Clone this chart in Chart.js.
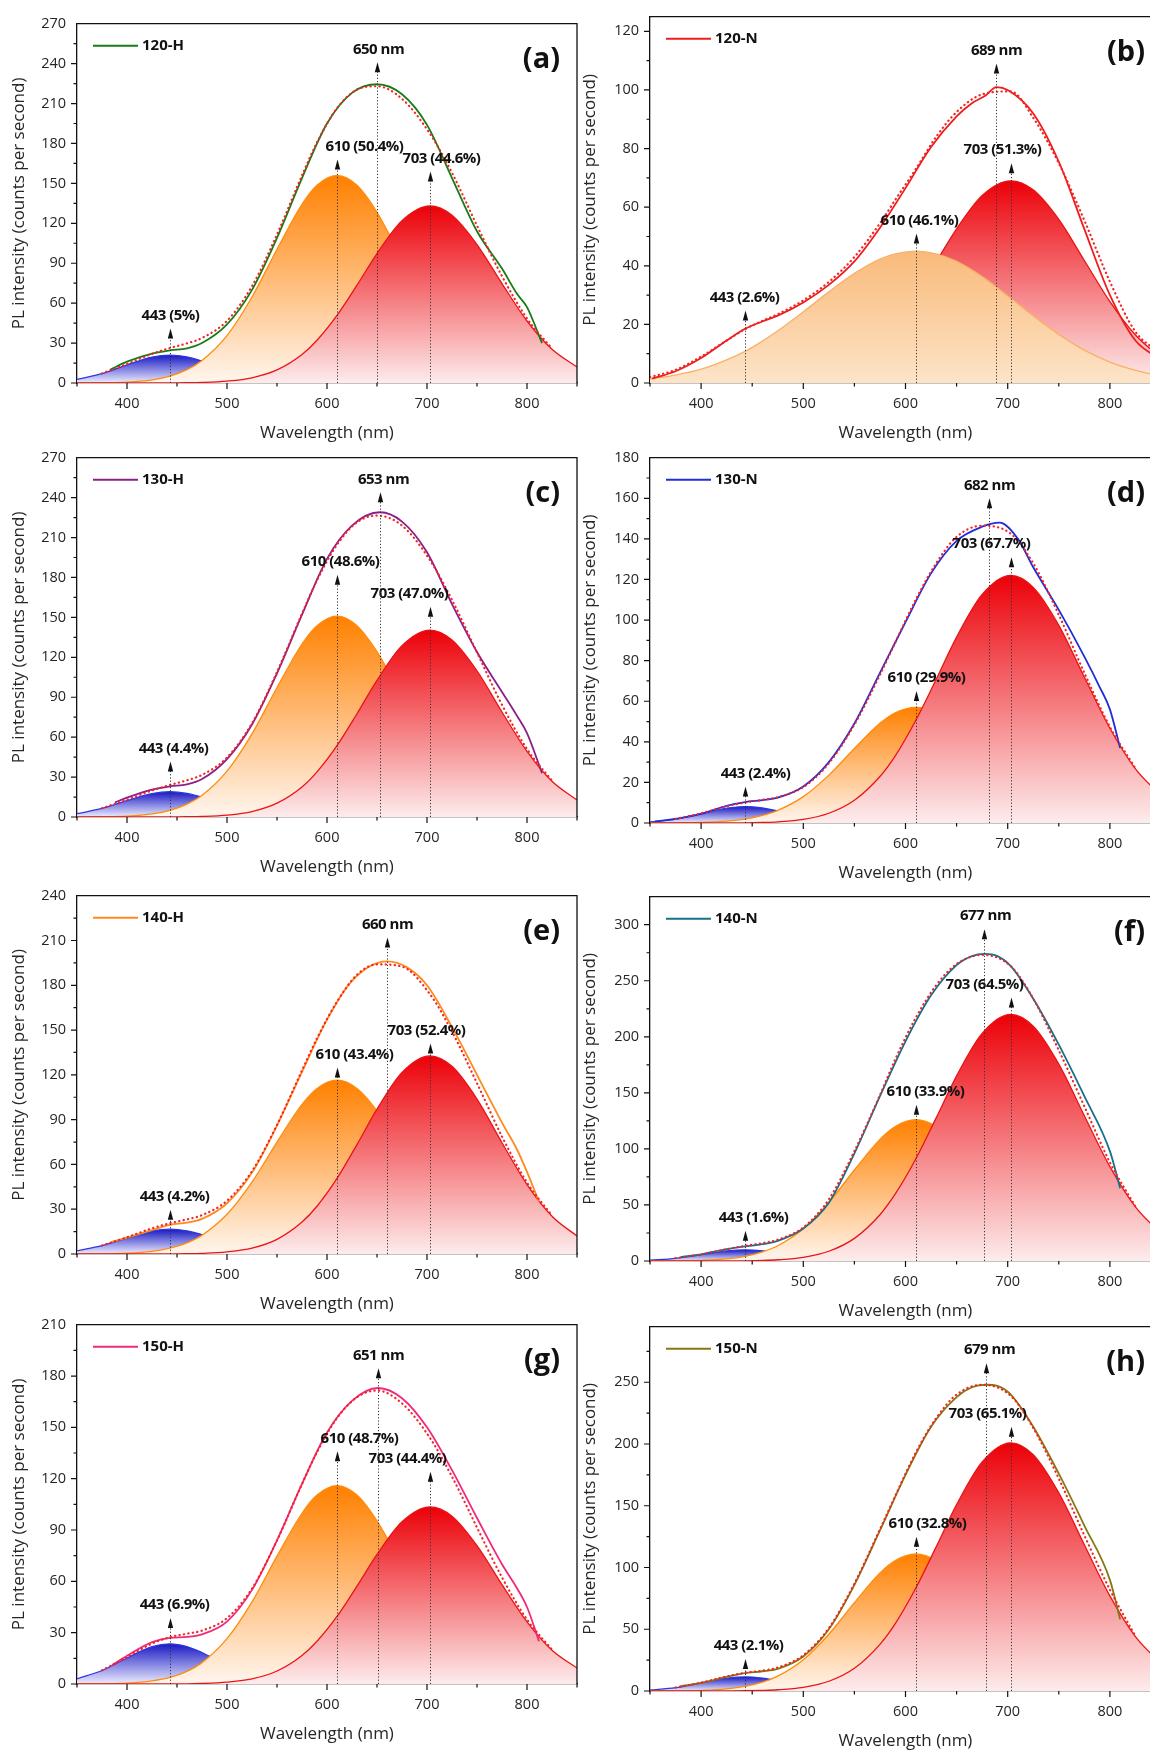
<!DOCTYPE html>
<html>
<head>
<meta charset="utf-8">
<script src="https://cdn.jsdelivr.net/npm/chart.js@4.4.1/dist/chart.umd.min.js"></script>
<style>
  html, body { margin: 0; padding: 0; background: #fff; overflow: hidden; }
  #fig { position: relative; width: 1150px; height: 1754px; overflow: hidden; background: #fff; }
  #fig canvas { position: absolute; }
</style>
</head>
<body>
<div id="fig"></div>
<script>
// wavelength grid of the fitted Gaussian components (nm)
const wl = [350, 375, 400, 425, 443, 460, 475, 500, 525, 550, 575, 590, 610, 630, 650, 675, 703, 725, 750, 775, 800, 825, 850];
const xTicks = [400, 500, 600, 700, 800];

// (a) 120-H
const a_yTicks = [0, 30, 60, 90, 120, 150, 180, 210, 240, 270];
const a_blue   = [2.7, 7.0, 13.6, 19.5, 21.0, 19.6, 16.5, 9.7, 4.3, 1.4, 0.3, 0.1, 0, 0, 0, 0, 0, 0, 0, 0, 0, 0, 0];
const a_orange = [0, 0.2, 0.7, 2.4, 5.2, 10.0, 16.9, 35.6, 64.6, 100.5, 134.3, 148.6, 156.0, 148.6, 128.3, 93.1, 54.3, 31.1, 14.3, 5.6, 1.9, 0.6, 0.1];
const a_red    = [0, 0, 0, 0, 0.1, 0.2, 0.4, 1.4, 3.9, 9.8, 21.4, 32.1, 50.8, 73.5, 97.3, 121.9, 133.0, 126.0, 104.0, 74.7, 46.6, 25.3, 12.0];
const a_fit    = [null, 7.2, 14.3, 21.9, 26.3, 29.8, 33.8, 46.7, 72.8, 111.7, 156.0, 180.8, 206.5, 220.5, 223.0, 213.5, 187.3, 158.0, 118.3, 80.3, 48.5, 25.9, null];
const a_expX   = [383, 400, 425, 443, 460, 475, 500, 525, 550, 575, 600, 625, 650, 675, 700, 725, 750, 775, 790, 800, 815];
const a_expY   = [10, 16, 22, 24.5, 26, 30, 44, 70, 109, 154, 195, 218, 224.5, 217, 194, 154, 114, 86, 67, 57, 30];

// (b) 120-N
const b_yTicks = [0, 20, 40, 60, 80, 100, 120];
const b_orange = [1.4, 2.7, 4.7, 7.9, 10.8, 14.3, 17.8, 24.3, 31.1, 37.4, 42.3, 44.1, 45.0, 44.1, 41.5, 36.3, 28.9, 22.9, 16.6, 11.2, 7.1, 4.3, 2.4];
const b_red    = [0, 0, 0, 0, 0.1, 0.2, 0.5, 1.3, 3.3, 7.2, 14.2, 20.1, 30.0, 41.3, 52.6, 64.0, 69.0, 65.9, 55.8, 41.8, 27.8, 16.4, 8.6];
const b_fit    = [2.0, 4.5, 9.0, 14.5, 18.4, 21.2, 23.5, 28.2, 34.5, 43.0, 54.5, 62.5, 73.0, 84.0, 92.5, 98.5, 99.5, 90.5, 75.0, 55.5, 34.6, 17.5, 10.0];
const b_expX   = [352, 375, 400, 425, 443, 460, 475, 500, 525, 550, 575, 600, 625, 650, 665, 678, 689, 700, 725, 750, 775, 800, 825, 850];
const b_expY   = [1.5, 4, 8.5, 14.5, 18.5, 21, 23, 27.5, 33.5, 41.5, 53, 66.5, 80.5, 91, 95.5, 98, 101, 100, 92, 75.5, 52.5, 30, 14.5, 8];

// (c) 130-H
const c_yTicks = [0, 30, 60, 90, 120, 150, 180, 210, 240, 270];
const c_blue   = [2.5, 6.4, 12.3, 17.6, 19.0, 17.7, 14.9, 8.8, 3.9, 1.3, 0.3, 0.1, 0, 0, 0, 0, 0, 0, 0, 0, 0, 0, 0];
const c_orange = [0, 0.2, 0.7, 2.3, 5.0, 9.7, 16.3, 34.5, 62.5, 97.3, 130.0, 143.8, 151.0, 143.8, 124.2, 90.2, 52.5, 30.1, 13.8, 5.4, 1.8, 0.5, 0.1];
const c_red    = [0, 0, 0, 0, 0.1, 0.2, 0.4, 1.4, 4.1, 10.4, 22.6, 33.9, 53.6, 77.6, 102.7, 128.8, 140.5, 133.1, 109.9, 78.9, 49.3, 26.8, 12.7];
const c_fit    = [null, 6.6, 13.0, 19.9, 24.1, 27.6, 31.6, 44.7, 70.5, 109.0, 152.9, 177.8, 204.6, 221.4, 226.5, 219.0, 193.0, 163.2, 123.7, 84.3, 51.1, 27.3, null];
const c_expX   = [388, 400, 425, 443, 460, 475, 500, 525, 550, 575, 600, 625, 653, 675, 700, 725, 750, 775, 790, 800, 815];
const c_expY   = [11, 14.5, 20.5, 23, 24.5, 28.5, 43.5, 69.5, 108, 152, 194, 219, 229, 222, 199, 160, 124, 94, 76, 63, 33];

// (d) 130-N
const d_yTicks = [0, 20, 40, 60, 80, 100, 120, 140, 160, 180];
const d_blue   = [0.5, 1.9, 4.5, 7.3, 8.1, 7.4, 5.9, 2.9, 1.0, 0.2, 0, 0, 0, 0, 0, 0, 0, 0, 0, 0, 0, 0, 0];
const d_orange = [0, 0.1, 0.3, 0.9, 1.9, 3.7, 6.2, 13.0, 23.6, 36.7, 49.1, 54.3, 57.0, 54.3, 46.9, 34.0, 19.8, 11.3, 5.2, 2.1, 0.7, 0.2, 0.1];
const d_red    = [0, 0, 0, 0, 0.1, 0.3, 0.6, 1.8, 4.8, 11.2, 22.9, 33.1, 50.5, 70.8, 91.6, 112.6, 122.0, 116.1, 97.4, 71.9, 46.7, 26.7, 13.5];
const d_fit    = [null, 2.0, 4.8, 8.2, 10.1, 11.4, 12.7, 17.7, 29.4, 48.5, 73.0, 89.0, 110.0, 128.0, 141.0, 146.5, 142.5, 128.0, 102.6, 74.0, 47.4, 26.9, null];
const d_expX   = [355, 375, 400, 425, 443, 460, 475, 500, 525, 550, 575, 600, 625, 650, 675, 692, 710, 725, 750, 775, 790, 800, 810];
const d_expY   = [0.8, 2, 4.5, 8.5, 10.3, 11.3, 12.5, 18, 30, 49, 74, 99, 123, 139, 146, 148, 140, 126, 105, 82, 67, 56, 37];

// (e) 140-H
const e_yTicks = [0, 30, 60, 90, 120, 150, 180, 210, 240];
const e_blue   = [2.1, 5.6, 10.7, 15.4, 16.6, 15.5, 13.0, 7.7, 3.4, 1.1, 0.3, 0.1, 0, 0, 0, 0, 0, 0, 0, 0, 0, 0, 0];
const e_orange = [0, 0.1, 0.5, 1.8, 3.9, 7.5, 12.6, 26.6, 48.2, 75.0, 100.2, 110.9, 116.4, 110.9, 95.8, 69.5, 40.5, 23.2, 10.6, 4.2, 1.4, 0.4, 0.1];
const e_red    = [0, 0, 0, 0, 0.1, 0.2, 0.4, 1.4, 3.9, 9.8, 21.4, 32.0, 50.6, 73.3, 97.0, 121.6, 132.7, 125.7, 103.8, 74.5, 46.5, 25.3, 12.0];
const e_fit    = [null, 5.7, 11.2, 17.2, 20.6, 23.2, 26.0, 35.7, 55.5, 86.5, 123.0, 144.5, 169.0, 187.0, 194.0, 192.5, 174.0, 149.0, 114.4, 78.7, 47.9, 25.7, null];
const e_expX   = [384, 400, 425, 443, 460, 475, 500, 525, 550, 575, 600, 625, 660, 680, 700, 725, 750, 775, 790, 800, 812];
const e_expY   = [8, 11, 16, 19.5, 21, 23.5, 34, 54.5, 86, 122, 157, 183, 196, 192, 180, 152, 120, 88, 70, 55, 35];

// (f) 140-N
const f_yTicks = [0, 50, 100, 150, 200, 250, 300];
const f_blue   = [0.7, 2.4, 5.6, 9.0, 10.0, 9.1, 7.3, 3.6, 1.2, 0.3, 0, 0, 0, 0, 0, 0, 0, 0, 0, 0, 0, 0, 0];
const f_orange = [0, 0.1, 0.6, 1.9, 4.2, 8.1, 13.6, 28.8, 52.2, 81.2, 108.5, 120.0, 126.0, 120.0, 103.6, 75.2, 43.8, 25.1, 11.5, 4.5, 1.5, 0.4, 0.1];
const f_red    = [0, 0, 0, 0.1, 0.2, 0.5, 1.1, 3.3, 8.7, 20.2, 41.3, 59.8, 91.0, 127.7, 165.2, 203.1, 220.0, 209.4, 175.6, 129.6, 84.2, 48.2, 24.3];
const f_fit    = [null, 2.5, 6.0, 10.5, 13.5, 16.0, 19.0, 30.0, 55.0, 98.0, 148.0, 180.0, 217.0, 246.0, 265.0, 273.0, 263.0, 234.0, 188.0, 138.0, 88.0, 48.6, null];
const f_expX   = [380, 400, 425, 443, 460, 475, 500, 525, 550, 575, 600, 625, 650, 665, 677, 690, 703, 725, 750, 775, 800, 810];
const f_expY   = [3.5, 6, 10.5, 13, 15, 18, 29, 52, 96, 147, 196, 237, 264, 272, 274, 272, 263, 234, 193, 147, 98, 65];

// (g) 150-H
const g_yTicks = [0, 30, 60, 90, 120, 150, 180, 210];
const g_blue   = [3.0, 7.9, 15.2, 21.8, 23.5, 21.9, 18.4, 10.9, 4.8, 1.6, 0.4, 0.1, 0, 0, 0, 0, 0, 0, 0, 0, 0, 0, 0];
const g_orange = [0, 0.1, 0.5, 1.8, 3.8, 7.4, 12.5, 26.5, 48.0, 74.7, 99.8, 110.4, 115.9, 110.4, 95.3, 69.2, 40.3, 23.1, 10.6, 4.2, 1.4, 0.4, 0.1];
const g_red    = [0, 0, 0, 0, 0.1, 0.1, 0.3, 1.1, 3.0, 7.6, 16.7, 25.0, 39.5, 57.2, 75.7, 94.8, 103.5, 98.1, 80.9, 58.1, 36.3, 19.7, 9.3];
const g_fit    = [null, 8.0, 15.7, 23.6, 27.4, 29.4, 31.2, 38.5, 55.8, 83.9, 116.9, 135.5, 155.4, 167.6, 171.5, 164.0, 143.8, 121.2, 91.5, 62.3, 37.7, 20.1, null];
const g_expX   = [385, 400, 425, 443, 460, 475, 500, 525, 550, 575, 600, 625, 651, 675, 700, 725, 750, 775, 790, 800, 812];
const g_expY   = [11, 16.5, 24.5, 27, 27.5, 29, 36.5, 55, 84, 117, 147, 165.5, 173, 167, 150, 125, 97, 70, 56, 45, 25];

// (h) 150-N
const h_yTicks = [0, 50, 100, 150, 200, 250];
const h_blue   = [0.8, 2.7, 6.5, 10.4, 11.5, 10.5, 8.4, 4.2, 1.4, 0.3, 0.1, 0, 0, 0, 0, 0, 0, 0, 0, 0, 0, 0, 0];
const h_orange = [0, 0.1, 0.5, 1.7, 3.7, 7.1, 12.0, 25.3, 46.0, 71.5, 95.6, 105.7, 111.0, 105.7, 91.3, 66.3, 38.6, 22.1, 10.1, 4.0, 1.4, 0.4, 0.1];
const h_red    = [0, 0, 0, 0.1, 0.2, 0.5, 1.0, 3.0, 7.9, 18.4, 37.8, 54.6, 83.2, 116.7, 150.9, 185.5, 201.0, 191.3, 160.4, 118.4, 77.0, 44.0, 22.2];
const h_fit    = [null, 2.8, 6.8, 11.8, 14.8, 16.5, 19.0, 29.0, 51.0, 87.0, 131.0, 158.0, 193.0, 221.0, 240.0, 248.0, 239.0, 213.0, 172.0, 126.0, 82.0, 44.4, null];
const h_expX   = [380, 400, 425, 443, 460, 475, 500, 525, 550, 575, 600, 625, 650, 665, 679, 690, 703, 725, 750, 775, 800, 810];
const h_expY   = [4, 6.5, 11.5, 14.5, 16, 18, 28, 50, 86, 130, 175, 214, 238, 246, 248, 247, 240, 214, 176, 134, 90, 58];

// column geometry
const SIDES = {
  L: { x: 0, width: 580, axisW: 77, padR: 3, titlePad: 9 },
  R: { x: 575, width: 600, axisW: 75, padR: 14, titlePad: 5 }
};

// notes: [wavelength, text, arrow tip value, label x shift in px]
const panels = [
  { key: 'a', side: 'L', top: 20, bottom: 383, yMax: 270, yTicks: a_yTicks, name: '120-H', color: '#177c17',
    blue: a_blue, orange: a_orange, red: a_red, fit: a_fit, expX: a_expX, expY: a_expY,
    notes: [[443, '443 (5%)', 41, 0], [610, '610 (50.4%)', 168, 27], [703, '703 (44.6%)', 159, 11], [650, '650 nm', 241, 1]] },
  { key: 'b', side: 'R', top: 13, bottom: 383, yMax: 125, yTicks: b_yTicks, name: '120-N', color: '#ee1d1d',
    blue: null, orange: b_orange, red: b_red, fit: b_fit, expX: b_expX, expY: b_expY,
    notes: [[443, '443 (2.6%)', 24.7, -1], [610, '610 (46.1%)', 51, 3], [703, '703 (51.3%)', 75, -9], [689, '689 nm', 109, 0]] },
  { key: 'c', side: 'L', top: 454, bottom: 817, yMax: 270, yTicks: c_yTicks, name: '130-H', color: '#8a1f8a',
    blue: c_blue, orange: c_orange, red: c_red, fit: c_fit, expX: c_expX, expY: c_expY,
    notes: [[443, '443 (4.4%)', 41.7, 3], [610, '610 (48.6%)', 182, 3], [703, '703 (47.0%)', 158, -21], [653, '653 nm', 244, 3]] },
  { key: 'd', side: 'R', top: 454, bottom: 823, yMax: 180, yTicks: d_yTicks, name: '130-N', color: '#1f2ed8',
    blue: d_blue, orange: d_orange, red: d_red, fit: d_fit, expX: d_expX, expY: d_expY,
    notes: [[443, '443 (2.4%)', 18, 10], [610, '610 (29.9%)', 65, 10], [703, '703 (67.7%)', 131, -20], [682, '682 nm', 160, 0]] },
  { key: 'e', side: 'L', top: 892, bottom: 1254, yMax: 240, yTicks: e_yTicks, name: '140-H', color: '#ff8a1c',
    blue: e_blue, orange: e_orange, red: e_red, fit: e_fit, expX: e_expX, expY: e_expY,
    notes: [[443, '443 (4.2%)', 29.6, 4], [610, '610 (43.4%)', 125, 17], [703, '703 (52.4%)', 141, -4], [660, '660 nm', 212, 0]] },
  { key: 'f', side: 'R', top: 893, bottom: 1261, yMax: 325, yTicks: f_yTicks, name: '140-N', color: '#15728c',
    blue: f_blue, orange: f_orange, red: f_red, fit: f_fit, expX: f_expX, expY: f_expY,
    notes: [[443, '443 (1.6%)', 27, 8], [610, '610 (33.9%)', 139.5, 9], [703, '703 (64.5%)', 235, -27], [677, '677 nm', 296, 1]] },
  { key: 'g', side: 'L', top: 1321, bottom: 1684, yMax: 210, yTicks: g_yTicks, name: '150-H', color: '#ef2a7d',
    blue: g_blue, orange: g_orange, red: g_red, fit: g_fit, expX: g_expX, expY: g_expY,
    notes: [[443, '443 (6.9%)', 38.6, 4], [610, '610 (48.7%)', 136, 22], [703, '703 (44.4%)', 124, -23], [651, '651 nm', 184.5, 0]] },
  { key: 'h', side: 'R', top: 1323, bottom: 1691, yMax: 295, yTicks: h_yTicks, name: '150-N', color: '#857713',
    blue: h_blue, orange: h_orange, red: h_red, fit: h_fit, expX: h_expX, expY: h_expY,
    notes: [[443, '443 (2.1%)', 26, 3], [610, '610 (32.8%)', 125, 11], [703, '703 (65.1%)', 214, -24], [679, '679 nm', 265.5, 3]] }
];

Chart.defaults.font.family = '"Open Sans", sans-serif';
const TXT = '#262626';

function pts(xs, ys) {
  return xs.map((x, i) => ({ x: x, y: ys[i] }));
}

// vertical gradient from the component's peak down to the baseline
function gradFill(topCol, botCol, peak) {
  return (c) => {
    const ch = c.chart;
    if (!ch.chartArea) return 'transparent';
    const y = ch.scales.y;
    const g = ch.ctx.createLinearGradient(0, y.getPixelForValue(peak), 0, y.getPixelForValue(0));
    g.addColorStop(0, topCol);
    g.addColorStop(1, botCol);
    return g;
  };
}

function band(vals, line, topCol, botCol, order) {
  return {
    data: pts(wl, vals),
    borderColor: line,
    borderWidth: 1.3,
    backgroundColor: gradFill(topCol, botCol, Math.max(...vals)),
    fill: 'origin',
    order: order,
    pointRadius: 0,
    cubicInterpolationMode: 'monotone'
  };
}

function makeDecor(p) {
  return {
    id: 'decor' + p.key,
    afterDraw(chart) {
      const { ctx, chartArea: a, scales: { x, y } } = chart;
      ctx.save();
      // frame top + right
      ctx.strokeStyle = '#111';
      ctx.lineWidth = 1.3;
      ctx.beginPath();
      ctx.moveTo(a.left, a.top);
      ctx.lineTo(a.right, a.top);
      ctx.lineTo(a.right, a.bottom);
      ctx.stroke();

      // major / minor ticks, outside
      ctx.lineWidth = 1.2;
      ctx.beginPath();
      for (let v = 350; v <= 850; v += 50) {
        const px = x.getPixelForValue(v);
        const len = v % 100 === 0 ? 6 : 3.5;
        ctx.moveTo(px, a.bottom);
        ctx.lineTo(px, a.bottom + len);
      }
      const st = p.yTicks[1] - p.yTicks[0];
      for (let k = 0; k * st / 2 < p.yMax - 1; k++) {
        const py = y.getPixelForValue(k * st / 2);
        const len = k % 2 === 0 ? 6 : 3.5;
        ctx.moveTo(a.left, py);
        ctx.lineTo(a.left - len, py);
      }
      ctx.stroke();

      // peak markers
      const y0 = y.getPixelForValue(0);
      ctx.font = 'bold 15px "Open Sans"';
      ctx.letterSpacing = '-0.5px';
      ctx.textAlign = 'center';
      ctx.textBaseline = 'middle';
      p.notes.forEach(([w, text, tip, dx]) => {
        const px = Math.round(x.getPixelForValue(w)) + 0.5;
        const ty = y.getPixelForValue(tip);
        ctx.setLineDash([1.2, 2]);
        ctx.strokeStyle = '#333';
        ctx.lineWidth = 1;
        ctx.beginPath();
        ctx.moveTo(px, y0);
        ctx.lineTo(px, ty + 9);
        ctx.stroke();
        ctx.setLineDash([]);
        ctx.fillStyle = '#111';
        ctx.beginPath();
        ctx.moveTo(px, ty);
        ctx.lineTo(px - 2.7, ty + 10);
        ctx.lineTo(px + 2.7, ty + 10);
        ctx.closePath();
        ctx.fill();
        ctx.fillText(text, px + dx, ty - 13);
      });

      // legend
      ctx.strokeStyle = p.color;
      ctx.lineWidth = 2;
      ctx.beginPath();
      ctx.moveTo(a.left + 16, a.top + 22);
      ctx.lineTo(a.left + 61, a.top + 22);
      ctx.stroke();
      ctx.letterSpacing = '0px';
      ctx.textAlign = 'left';
      ctx.fillStyle = '#111';
      ctx.fillText(p.name, a.left + 65, a.top + 22);

      // panel letter
      ctx.font = 'bold 29px "Open Sans"';
      ctx.textAlign = 'right';
      ctx.fillText('(' + p.key + ')', p.side === 'L' ? a.right - 17 : a.left + 495, a.top + 36);
      ctx.restore();
    }
  };
}

const fig = document.getElementById('fig');

panels.forEach(p => {
  const s = SIDES[p.side];
  const h = p.bottom - p.top + 10 + 64;
  const cv = document.createElement('canvas');
  cv.width = s.width;
  cv.height = h;
  cv.style.left = s.x + 'px';
  cv.style.top = (p.top - 10) + 'px';
  cv.style.width = s.width + 'px';
  cv.style.height = h + 'px';
  fig.appendChild(cv);

  const ds = [];
  if (p.blue) ds.push(band(p.blue, 'rgb(45,55,225)', 'rgb(25,25,195)', 'rgb(236,236,255)', 6));
  if (p.key === 'b') {
    ds.push(band(p.orange, 'rgb(248,178,104)', 'rgb(249,186,122)', 'rgb(253,228,200)', 4));
    ds.push(band(p.red, 'rgb(235,20,20)', 'rgb(236,0,8)', 'rgb(253,236,236)', 5));
  } else {
    ds.push(band(p.orange, 'rgb(255,140,10)', 'rgb(255,128,0)', 'rgb(255,246,238)', 5));
    ds.push(band(p.red, 'rgb(235,20,20)', 'rgb(236,0,8)', 'rgb(253,236,236)', 4));
  }
  ds.push({
    data: pts(p.expX, p.expY), borderColor: p.color, borderWidth: 1.8, fill: false,
    order: 2, pointRadius: 0, cubicInterpolationMode: 'monotone'
  });
  ds.push({
    data: pts(wl, p.fit), borderColor: 'rgb(245,35,35)', borderWidth: 2.2, borderDash: [0.3, 4.2],
    borderCapStyle: 'round', fill: false, order: 1, pointRadius: 0, cubicInterpolationMode: 'monotone'
  });

  new Chart(cv, {
    type: 'line',
    data: { datasets: ds },
    options: {
      responsive: false,
      animation: false,
      devicePixelRatio: 1,
      layout: { padding: { top: 10, right: s.padR, left: 0, bottom: 0 } },
      plugins: { legend: { display: false }, tooltip: { enabled: false } },
      scales: {
        x: {
          type: 'linear', min: 350, max: 850,
          afterBuildTicks: sc => { sc.ticks = xTicks.map(v => ({ value: v })); },
          afterFit: sc => { sc.height = 64; },
          grid: { display: true, drawOnChartArea: false, tickLength: 6, tickColor: 'rgba(0,0,0,0)' },
          border: { display: true, color: '#111', width: 1.3 },
          ticks: { padding: 6, color: TXT, font: { size: 14.5 }, maxRotation: 0, autoSkip: false },
          title: { display: true, text: 'Wavelength (nm)', color: TXT, font: { size: 17 }, padding: { top: 0, bottom: 4 } }
        },
        y: {
          type: 'linear', min: 0, max: p.yMax,
          afterBuildTicks: sc => { sc.ticks = p.yTicks.map(v => ({ value: v })); },
          afterFit: sc => { sc.width = s.axisW; },
          grid: { display: true, drawOnChartArea: false, tickLength: 6, tickColor: 'rgba(0,0,0,0)' },
          border: { display: true, color: '#111', width: 1.3 },
          ticks: { padding: 5, color: TXT, font: { size: 14.5 }, autoSkip: false },
          title: { display: true, text: 'PL intensity (counts per second)', color: TXT, font: { size: 17 }, padding: { top: s.titlePad, bottom: 0 } }
        }
      }
    },
    plugins: [makeDecor(p)]
  });
});
</script>
</body>
</html>
